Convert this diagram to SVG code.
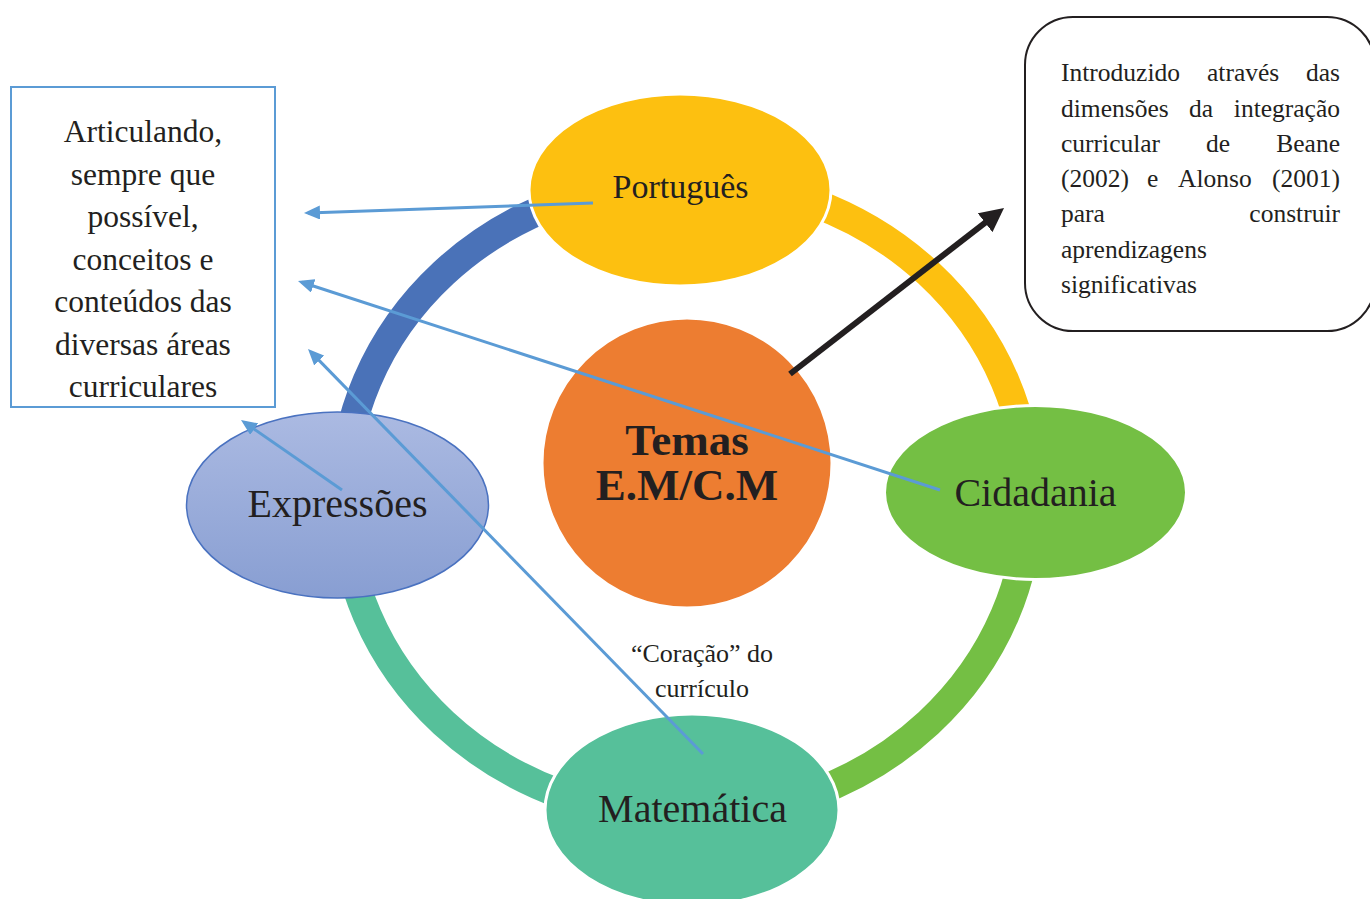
<svg xmlns="http://www.w3.org/2000/svg" width="1370" height="899" viewBox="0 0 1370 899">
<style>
  text { font-family: "Liberation Serif", "Times New Roman", serif; fill: #231f20; }
  .ring { fill: none; stroke-width: 29; }
  .node { stroke: #ffffff; stroke-width: 3; }
  .big { font-size: 40px; text-anchor: middle; }
  .box { font-size: 31.5px; text-anchor: middle; }
  .rt { font-size: 25.5px; }
  .blue { stroke: #5b9bd5; stroke-width: 3; fill: none; marker-end: url(#ah); }
</style>
<defs>
  <marker id="ah" markerUnits="userSpaceOnUse" markerWidth="16" markerHeight="14" viewBox="0 0 16 14" refX="12" refY="7" orient="auto">
    <path d="M0 0 L16 7 L0 14 Z" fill="#5b9bd5"/>
  </marker>
  <marker id="bh" markerUnits="userSpaceOnUse" markerWidth="24" markerHeight="24" viewBox="0 0 24 24" refX="17" refY="12" orient="auto">
    <path d="M0 0 L24 12 L0 24 Z" fill="#231f20"/>
  </marker>
  <linearGradient id="gexp" x1="0" y1="0" x2="0" y2="1">
    <stop offset="0" stop-color="#abbae2"/>
    <stop offset="1" stop-color="#889ed2"/>
  </linearGradient>
</defs>

<g id="ring">
  <path class="ring" stroke="#fdc010" d="M686 180 A343 318 0 0 1 1029 498"/>
  <path class="ring" stroke="#74bf44" d="M1029 498 A343 318 0 0 1 686 816"/>
  <path class="ring" stroke="#56c09a" d="M686 816 A343 318 0 0 1 343 498"/>
  <path class="ring" stroke="#4a72b8" d="M343 498 A343 318 0 0 1 686 180"/>
</g>

<g id="portugues">
  <ellipse class="node" cx="680" cy="190" rx="151" ry="96" fill="#fdc010"/>
  <text x="680.5" y="198" font-size="34" text-anchor="middle">Português</text>
</g>
<g id="cidadania">
  <ellipse class="node" cx="1035.5" cy="492.5" rx="151" ry="87" fill="#74bf44"/>
  <text class="big" x="1035.5" y="506">Cidadania</text>
</g>
<g id="matematica">
  <ellipse class="node" cx="692" cy="810" rx="147" ry="96" fill="#56c09a"/>
  <text class="big" x="692.5" y="822">Matemática</text>
</g>
<g id="expressoes">
  <ellipse cx="337.5" cy="505" rx="151" ry="93" fill="url(#gexp)" stroke="#4a72c0" stroke-width="1.5"/>
  <text class="big" x="337.5" y="517">Expressões</text>
</g>
<g id="temas">
  <circle class="node" cx="687" cy="463" r="145" fill="#ed7d31"/>
  <text x="687" y="455" font-size="45" font-weight="bold" text-anchor="middle">Temas</text>
  <text x="687" y="500" font-size="45" font-weight="bold" text-anchor="middle">E.M/C.M</text>
</g>

<g id="coracao">
  <text x="702" y="662" font-size="26" text-anchor="middle">“Coração” do</text>
  <text x="702" y="697" font-size="26" text-anchor="middle">currículo</text>
</g>

<g id="box-left">
  <rect x="11" y="87" width="264" height="320" fill="#ffffff" stroke="#5b9bd5" stroke-width="2"/>
  <text class="box" x="143" y="142">Articulando,</text>
  <text class="box" x="143" y="184.5">sempre que</text>
  <text class="box" x="143" y="227">possível,</text>
  <text class="box" x="143" y="269.5">conceitos e</text>
  <text class="box" x="143" y="312">conteúdos das</text>
  <text class="box" x="143" y="354.5">diversas áreas</text>
  <text class="box" x="143" y="397">curriculares</text>
</g>

<g id="box-right">
  <rect x="1025" y="17" width="350" height="314" rx="48" ry="48" fill="#ffffff" stroke="#231f20" stroke-width="2"/>
  <g class="rt">
    <text x="1061" y="81">Introduzido</text>
    <text x="1207" y="81">através</text>
    <text x="1340" y="81" text-anchor="end">das</text>
    <text x="1061" y="117">dimensões</text>
    <text x="1189" y="117">da</text>
    <text x="1340" y="117" text-anchor="end">integração</text>
    <text x="1061" y="152">curricular</text>
    <text x="1206" y="152">de</text>
    <text x="1340" y="152" text-anchor="end">Beane</text>
    <text x="1061" y="187">(2002)</text>
    <text x="1147" y="187">e</text>
    <text x="1178" y="187">Alonso</text>
    <text x="1340" y="187" text-anchor="end">(2001)</text>
    <text x="1061" y="222">para</text>
    <text x="1340" y="222" text-anchor="end">construir</text>
    <text x="1061" y="258">aprendizagens</text>
    <text x="1061" y="293">significativas</text>
  </g>
</g>

<g id="connectors">
  <line stroke="#231f20" stroke-width="6" x1="790" y1="374" x2="998.5" y2="212.3" marker-end="url(#bh)"/>
  <line class="blue" x1="593" y1="203" x2="308" y2="212.9"/>
  <line class="blue" x1="940" y1="490" x2="301.8" y2="282.2"/>
  <line class="blue" x1="703" y1="754" x2="310.8" y2="351.9"/>
  <line class="blue" x1="342" y1="490" x2="244.3" y2="422.3"/>
</g>
</svg>
